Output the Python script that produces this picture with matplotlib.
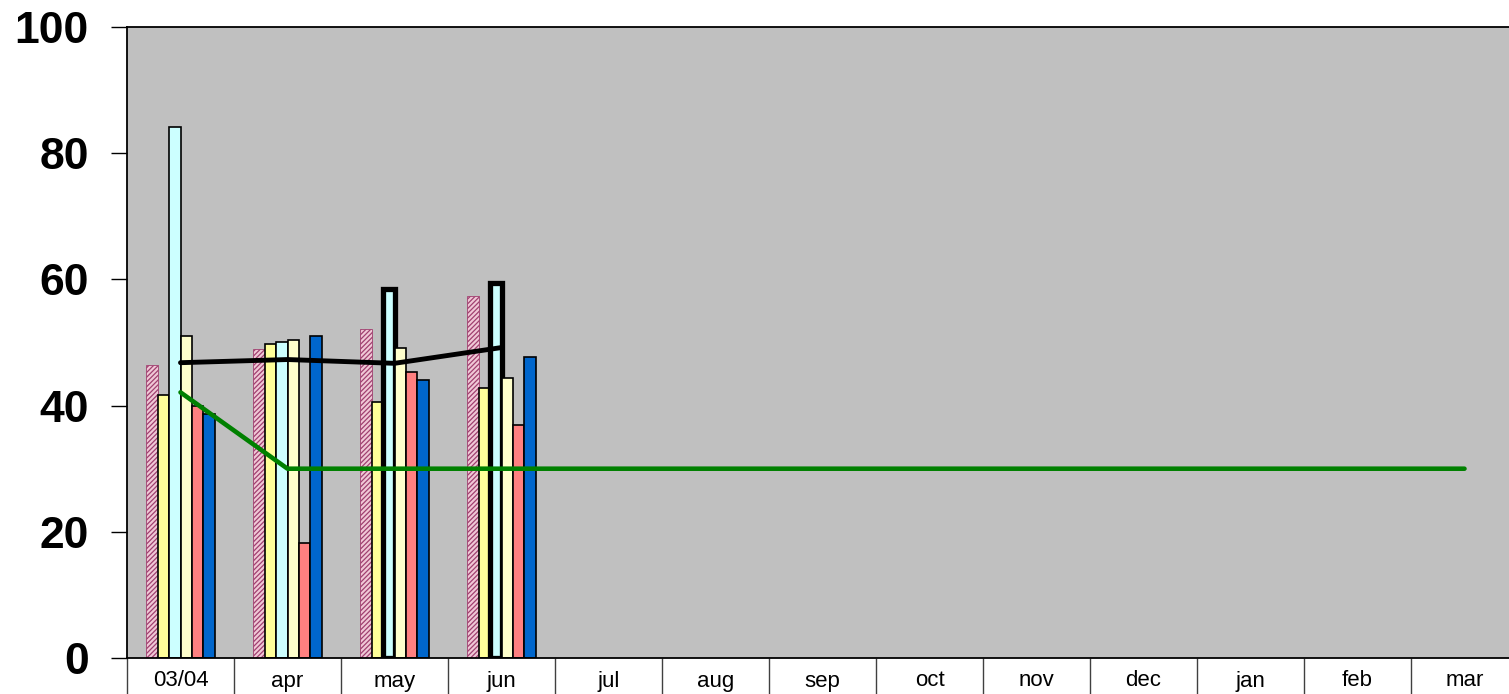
import matplotlib
matplotlib.use("Agg")
import matplotlib.pyplot as plt
import numpy as np

categories = ['03/04', 'apr', 'may', 'jun', 'jul', 'aug', 'sep', 'oct',
              'nov', 'dec', 'jan', 'feb', 'mar']
series1 = [46.5, 48.9, 52.1, 57.4]   # pink hatched
series2 = [41.7, 49.8, 40.5, 42.8]   # yellow
series3 = [84.1, 50.1, 58.4, 59.4]   # light cyan
series4 = [51.0, 50.4, 49.2, 44.3]   # light yellow
series5 = [40.0, 18.2, 45.4, 36.9]   # salmon
series6 = [38.7, 51.1, 44.0, 47.7]   # blue
black_line = [46.8, 47.3, 46.7, 49.2]
green_line = [42.1, 30, 30, 30, 30, 30, 30, 30, 30, 30, 30, 30, 30]
yticks = [0, 20, 40, 60, 80, 100]

plt.rcParams['font.family'] = ['Liberation Sans', 'DejaVu Sans']
plt.rcParams['hatch.linewidth'] = 0.9

fig = plt.figure(figsize=(15.09, 6.94), dpi=100)
W, H = 1509, 694
left, right, top, bottom = 127, 1518, 27, 658
ax = fig.add_axes([left / W, (H - bottom) / H, (right - left) / W, (bottom - top) / H])
ax.set_facecolor('#C0C0C0')

x = np.arange(len(series1))
bw = 0.106
offs = (np.arange(6) - 2.5) * bw

ax.bar(x + offs[0], series1, bw, facecolor='#F0C8D6', edgecolor='#A04070',
       hatch='///////', linewidth=0.6, zorder=2)
ax.bar(x + offs[1], series2, bw, color='#FFFF99', edgecolor='black', linewidth=1.2, zorder=2)
cyan_lw = [1.2, 1.2, 3.8, 3.8]
ax.bar(x + offs[2], series3, bw, color='#CCFFFF', edgecolor='black', linewidth=cyan_lw, zorder=2)
ax.bar(x + offs[3], series4, bw, color='#FFFFCC', edgecolor='black', linewidth=1.2, zorder=2)
ax.bar(x + offs[4], series5, bw, color='#FF8080', edgecolor='black', linewidth=1.2, zorder=2)
ax.bar(x + offs[5], series6, bw, color='#0066CC', edgecolor='black', linewidth=1.2, zorder=2)

ax.plot(np.arange(len(black_line)), black_line, color='black', linewidth=3.5,
        solid_capstyle='round', zorder=4)
ax.plot(np.arange(len(green_line)), green_line, color='#008000', linewidth=3.3,
        solid_capstyle='round', zorder=4)

ax.set_xlim(-0.5, len(categories) - 0.5)
ax.set_ylim(0, 100)

ax.set_yticks(yticks)
ax.set_yticklabels([str(v) for v in yticks], fontsize=32, fontweight='bold')
ax.tick_params(axis='y', direction='out', length=11.5, width=1, pad=16)

ax.set_xticks(np.arange(len(categories)))
ax.set_xticklabels(categories, fontsize=16)
ax.tick_params(axis='x', which='major', length=0, pad=9)
ax.set_xticks(np.arange(len(categories) + 1) - 0.5, minor=True)
ax.tick_params(axis='x', which='minor', direction='out', length=30, width=1, color='#404040')

for s in ['left', 'bottom', 'top']:
    ax.spines[s].set_linewidth(1.3)
    ax.spines[s].set_color('black')
ax.spines['right'].set_visible(False)

fig.savefig('out.png', dpi=100)
